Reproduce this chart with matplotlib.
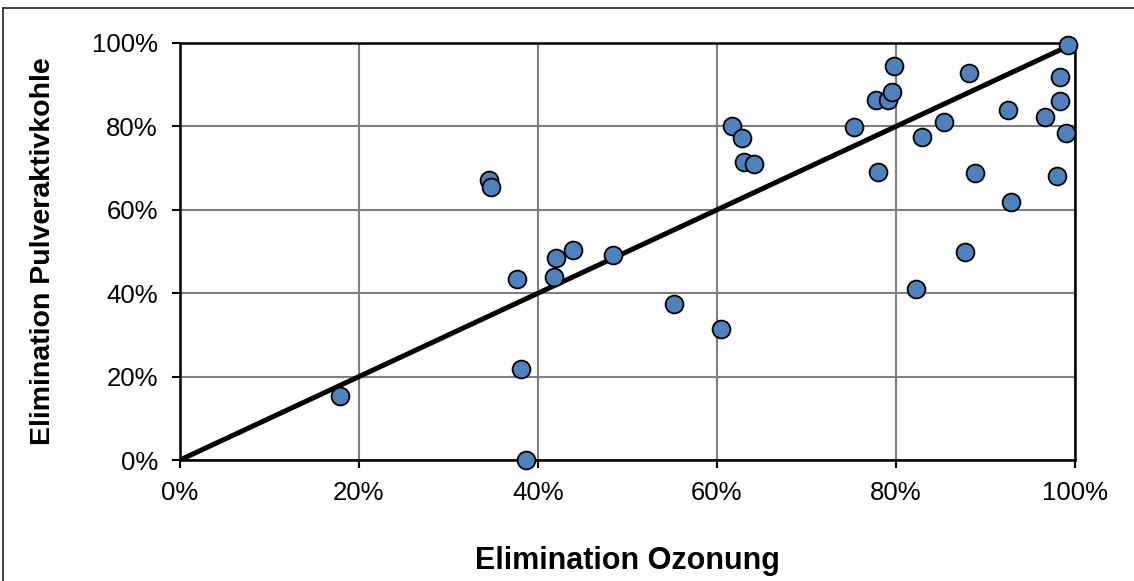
import matplotlib
matplotlib.use("Agg")
import matplotlib.pyplot as plt
from matplotlib.ticker import PercentFormatter
from matplotlib.lines import Line2D

plt.rcParams['font.family'] = ['Liberation Sans', 'DejaVu Sans']

# Elimination durch Ozonung (x) und Pulveraktivkohle (y), Anteil 0..1
ozonung = [0.179, 0.345, 0.347, 0.377, 0.418, 0.420, 0.439, 0.484, 0.381, 0.387,
           0.552, 0.604, 0.617, 0.628, 0.630, 0.641, 0.753, 0.778, 0.780, 0.791,
           0.795, 0.798, 0.822, 0.829, 0.854, 0.877, 0.882, 0.888, 0.925, 0.928,
           0.966, 0.980, 0.983, 0.983, 0.990, 0.992]
pak = [0.154, 0.671, 0.654, 0.434, 0.440, 0.485, 0.504, 0.492, 0.218, 0.0,
       0.373, 0.313, 0.800, 0.773, 0.715, 0.709, 0.798, 0.864, 0.691, 0.864,
       0.882, 0.946, 0.411, 0.775, 0.810, 0.499, 0.929, 0.688, 0.839, 0.618,
       0.823, 0.682, 0.918, 0.860, 0.785, 0.996]
linie_x = [0, 1]
linie_y = [0, 1]
ticks = [0, 0.2, 0.4, 0.6, 0.8, 1.0]

fig = plt.figure(figsize=(11.34, 5.81), dpi=100)
ax = fig.add_axes([180/1134, 1-460/581, 895/1134, 417/581])

ax.plot(linie_x, linie_y, color='black', lw=3.6, zorder=3, solid_capstyle='butt')
ax.scatter(ozonung, pak, s=165, color='#4F81BD', edgecolors='black',
           linewidths=1.3, zorder=4, clip_on=False)

ax.set_xlim(0, 1)
ax.set_ylim(0, 1)
ax.set_xticks(ticks)
ax.set_yticks(ticks)
ax.xaxis.set_major_formatter(PercentFormatter(1.0, decimals=0))
ax.yaxis.set_major_formatter(PercentFormatter(1.0, decimals=0))
ax.grid(True, color='#7f7f7f', lw=1.5)
ax.set_axisbelow(True)
for s in ax.spines.values():
    s.set_linewidth(1.8)
ax.tick_params(axis='both', direction='out', length=6, width=1.5, labelsize=18.5)
ax.tick_params(axis='x', pad=9)
ax.tick_params(axis='y', pad=10)

ax.set_xlabel('Elimination Ozonung', fontsize=22, fontweight='bold', labelpad=30)
ax.set_ylabel('Elimination Pulveraktivkohle', fontsize=20.5, fontweight='bold', labelpad=26)

# Rahmen um das Diagramm (rechts/unten abgeschnitten)
fig.add_artist(Line2D([3/1134, 3/1134], [0, 1-8/581], color='#333333', lw=1.3))
fig.add_artist(Line2D([3/1134, 1], [1-8/581, 1-8/581], color='#333333', lw=1.3))

fig.savefig('out.png', dpi=100)
